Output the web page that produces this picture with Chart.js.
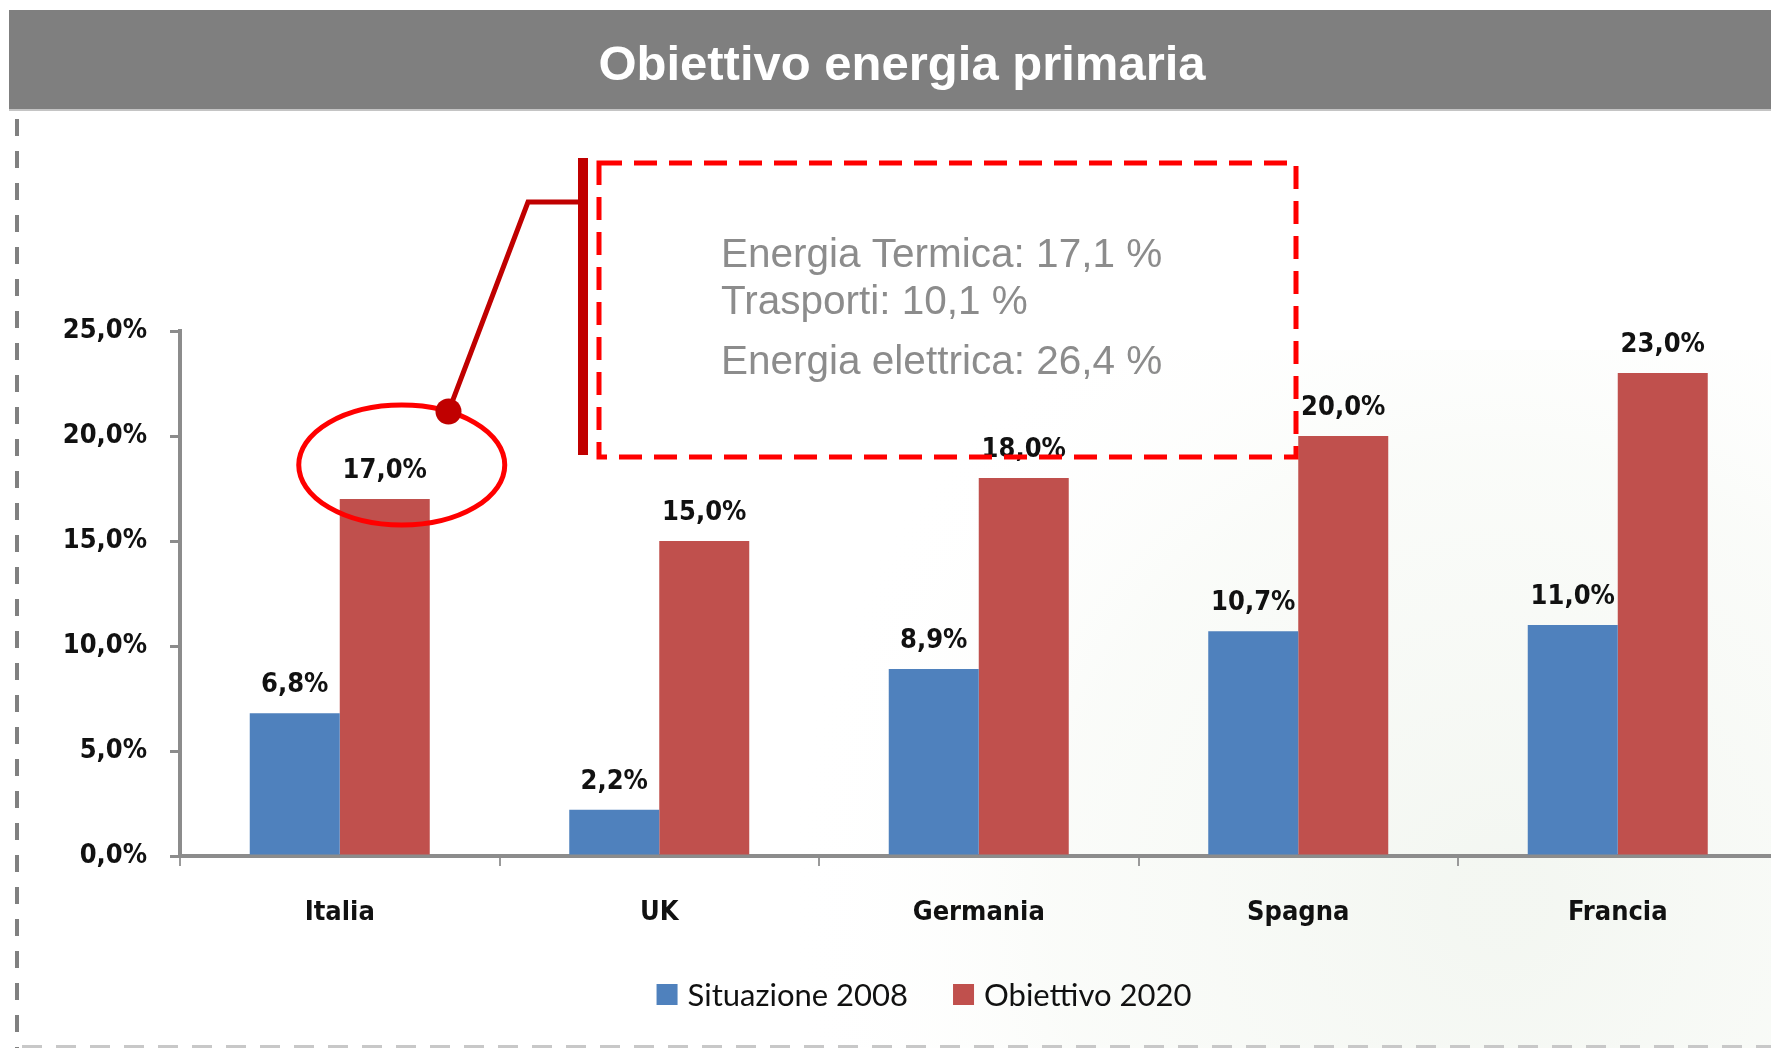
<!DOCTYPE html>
<html>
<head>
<meta charset="utf-8">
<script src="https://cdn.jsdelivr.net/npm/chart.js@4.4.1/dist/chart.umd.min.js"></script>
<style>
html, body { margin: 0; padding: 0; overflow: hidden; background: #ffffff; width: 1771px; height: 1048px; }
#wrap { position: absolute; left: 0; top: 0; width: 1800px; height: 1048px; }
</style>
</head>
<body>
<div id="wrap"><canvas id="c" width="1800" height="1048"></canvas></div>
<script>
// ---- data ----
const chartTitle = 'Obiettivo energia primaria';
const categories = ['Italia', 'UK', 'Germania', 'Spagna', 'Francia'];
const seriesNames = ['Situazione 2008', 'Obiettivo 2020'];
const situazione2008 = [6.8, 2.2, 8.9, 10.7, 11.0];
const obiettivo2020 = [17.0, 15.0, 18.0, 20.0, 23.0];
const yTicks = [0, 5, 10, 15, 20, 25];
const calloutLines = ['Energia Termica: 17,1 %', 'Trasporti: 10,1 %', 'Energia elettrica: 26,4 %'];

const seriesColors = ['#4f81bd', '#c0504d'];
const boldFamily = "'DejaVu Sans Condensed', 'DejaVu Sans', sans-serif";
const fmtPct = v => v.toFixed(1).replace('.', ',') + '%';

const decoPlugin = {
  id: 'deco',
  beforeDraw(chart) {
    const ctx = chart.ctx;
    ctx.save();
    ctx.fillStyle = '#ffffff';
    ctx.fillRect(0, 0, chart.width, chart.height);
    // faint background swoosh
    const g = ctx.createRadialGradient(1500, 900, 50, 1500, 900, 720);
    g.addColorStop(0, 'rgba(230,237,226,0.45)');
    g.addColorStop(0.6, 'rgba(238,243,234,0.28)');
    g.addColorStop(1, 'rgba(255,255,255,0)');
    ctx.fillStyle = g;
    ctx.fillRect(600, 350, 1200, 698);
    // title band
    ctx.fillStyle = '#7f7f7f';
    ctx.fillRect(9, 10, chart.width, 100);
    ctx.fillStyle = '#c4c4c4';
    ctx.fillRect(9, 109, chart.width, 2);
    ctx.fillStyle = '#ffffff';
    ctx.font = "bold 49px 'Liberation Sans', Arial, sans-serif";
    ctx.textAlign = 'center';
    ctx.textBaseline = 'alphabetic';
    ctx.fillText(chartTitle, 902, 80);
    // dashed frame lines
    ctx.setLineDash([17, 15]);
    ctx.strokeStyle = '#808080';
    ctx.lineWidth = 4;
    ctx.beginPath();
    ctx.moveTo(17, 119);
    ctx.lineTo(17, 1048);
    ctx.stroke();
    ctx.setLineDash([20, 14]);
    ctx.strokeStyle = '#c8c8c8';
    ctx.lineWidth = 3;
    ctx.beginPath();
    ctx.moveTo(22, 1046.5);
    ctx.lineTo(chart.width, 1046.5);
    ctx.stroke();
    ctx.restore();
  },
  afterDatasetsDraw(chart) {
    const ctx = chart.ctx;
    ctx.save();
    ctx.font = 'bold 27px ' + boldFamily;
    ctx.fillStyle = '#111111';
    ctx.textAlign = 'center';
    ctx.textBaseline = 'alphabetic';
    chart.data.datasets.forEach((ds, i) => {
      chart.getDatasetMeta(i).data.forEach((bar, j) => {
        ctx.fillText(fmtPct(ds.data[j]), bar.x, bar.y - 21);
      });
    });
    ctx.restore();
  },
  afterDraw(chart) {
    const ctx = chart.ctx;
    ctx.save();
    // ellipse around Italia 2020 label
    const bar = chart.getDatasetMeta(1).data[0];
    const cx = bar.x + 17, cy = bar.y - 34, rx = 103, ry = 60;
    ctx.strokeStyle = '#ff0000';
    ctx.lineWidth = 5;
    ctx.beginPath();
    ctx.ellipse(cx, cy, rx, ry, 0, 0, Math.PI * 2);
    ctx.stroke();
    const t = 1.1;
    const dx = cx + rx * Math.cos(t), dy = cy - ry * Math.sin(t);
    // leader line
    ctx.strokeStyle = '#c00000';
    ctx.lineWidth = 5;
    ctx.lineJoin = 'miter';
    ctx.beginPath();
    ctx.moveTo(dx, dy);
    ctx.lineTo(528, 202);
    ctx.lineTo(583, 202);
    ctx.stroke();
    ctx.fillStyle = '#c00000';
    ctx.beginPath();
    ctx.arc(dx, dy, 13, 0, Math.PI * 2);
    ctx.fill();
    ctx.fillRect(578, 158, 10, 297);
    // dashed callout box
    ctx.setLineDash([23, 12]);
    ctx.strokeStyle = '#ff0000';
    ctx.lineWidth = 5;
    ctx.strokeRect(599, 163, 697, 294);
    ctx.setLineDash([]);
    // callout text
    ctx.fillStyle = '#8c8c8c';
    ctx.font = "40.5px 'Liberation Sans', Arial, sans-serif";
    ctx.textAlign = 'left';
    ctx.textBaseline = 'alphabetic';
    const baselines = [267, 314, 374];
    calloutLines.forEach((s, i) => ctx.fillText(s, 721, baselines[i]));
    // legend
    ctx.font = "31px Lato, 'Open Sans', sans-serif";
    const box = 21, gapBox = 10, gapItem = 45;
    const widths = chart.data.datasets.map(d => ctx.measureText(d.label).width);
    const total = widths.reduce((a, w) => a + box + gapBox + w, 0) + gapItem * (widths.length - 1);
    let x = 924 - total / 2;
    chart.data.datasets.forEach((d, i) => {
      ctx.fillStyle = d.backgroundColor;
      ctx.fillRect(x, 984, box, box);
      ctx.fillStyle = '#111111';
      ctx.fillText(d.label, x + box + gapBox, 1006);
      x += box + gapBox + widths[i] + gapItem;
    });
    ctx.restore();
  }
};

const tickFont = { family: boldFamily, weight: 'bold', size: 27 };

new Chart(document.getElementById('c'), {
  type: 'bar',
  data: {
    labels: categories,
    datasets: [
      { label: seriesNames[0], data: situazione2008, backgroundColor: seriesColors[0], borderWidth: 0 },
      { label: seriesNames[1], data: obiettivo2020, backgroundColor: seriesColors[1], borderWidth: 0 }
    ]
  },
  options: {
    responsive: false,
    animation: false,
    devicePixelRatio: 1,
    layout: { padding: { top: 331, left: 0, right: 22.5, bottom: 92 } },
    plugins: { legend: { display: false }, title: { display: false }, tooltip: { enabled: false } },
    datasets: { bar: { barPercentage: 1.0, categoryPercentage: 0.5634 } },
    scales: {
      x: {
        grid: { display: true, drawOnChartArea: false, drawTicks: true, tickLength: 10, color: '#9a9a9a', lineWidth: 2, offset: true },
        border: { display: true, color: '#8c8c8c', width: 4 },
        ticks: { font: tickFont, color: '#111111', padding: 31 },
        afterFit: s => { s.height = 100; }
      },
      y: {
        min: 0, max: 25,
        afterBuildTicks: s => { s.ticks = yTicks.map(v => ({ value: v })); },
        grid: { display: true, drawOnChartArea: false, drawTicks: true, tickLength: 10, color: '#8c8c8c', lineWidth: 3 },
        border: { display: true, color: '#8c8c8c', width: 4 },
        ticks: { font: tickFont, color: '#111111', padding: 23, callback: v => fmtPct(v) },
        afterFit: s => { s.width = 180; }
      }
    }
  },
  plugins: [decoPlugin]
});
</script>
</body>
</html>
